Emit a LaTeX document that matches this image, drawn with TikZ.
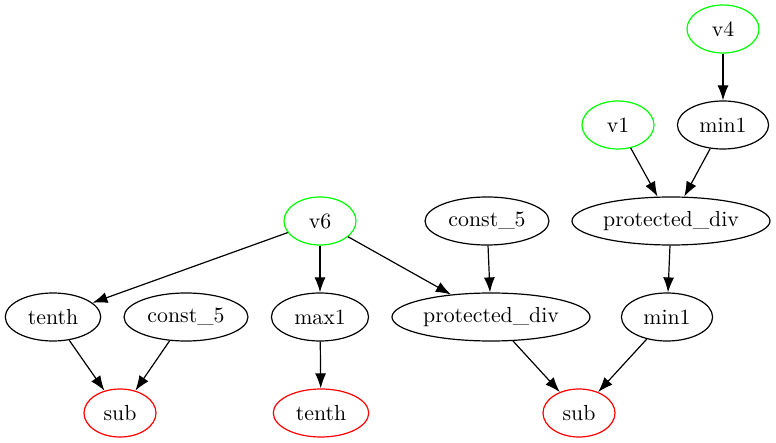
\documentclass[tikz,border=0pt]{standalone}
\usetikzlibrary{arrows.meta,shapes.geometric}
\definecolor{leafgreen}{RGB}{0,255,0}
\definecolor{rootred}{RGB}{255,0,0}
\tikzset{
  op/.style={draw, ellipse, line width=0.6pt, minimum width=36pt, minimum height=24pt,
    inner xsep=4.3pt, inner ysep=0pt, font=\fontsize{10.9}{13}\selectfont},
  wideop/.style={op, inner xsep=0pt, minimum width=#1},
  leaf/.style={op, draw=leafgreen},
  root/.style={op, draw=rootred},
  edge/.style={line width=0.6pt, -{Latex[length=7.5pt, width=5.5pt]}}
}
\begin{document}
\begin{tikzpicture}[x=0.5pt, y=-0.5pt]
                \useasboundingbox (0,0) rectangle (776,443);
                \node[leaf] (v4) at (723,29) {v4};
                \node[leaf] (v1) at (618,125) {v1};
                \node[op] (minA) at (723,125) {min1};
                \node[wideop=99pt] (pdivA) at (671,221) {protected\_div};
                \node[wideop=62pt] (constA) at (487,221) {const\_5};
                \node[leaf] (v6) at (320,221) {v6};
                \node[op] (tenthA) at (53,317) {tenth};
                \node[wideop=62pt] (constB) at (186,317) {const\_5};
                \node[op] (maxA) at (320,317) {max1};
                \node[wideop=99pt] (pdivB) at (491,317) {protected\_div};
                \node[op] (minB) at (667,317) {min1};
                \node[root] (subA) at (120,413) {sub};
                \node[root] (tenthB) at (321,413) {tenth};
                \node[root] (subB) at (579,413) {sub};
                \draw[edge] (v4) -- (minA);
                \draw[edge] (v1) -- (pdivA);
                \draw[edge] (minA) -- (pdivA);
                \draw[edge] (pdivA) -- (minB);
                \draw[edge] (constA) -- (pdivB);
                \draw[edge] (v6) -- (tenthA);
                \draw[edge] (v6) -- (maxA);
                \draw[edge] (v6) -- (pdivB);
                \draw[edge] (tenthA) -- (subA);
                \draw[edge] (constB) -- (subA);
                \draw[edge] (maxA) -- (tenthB);
                \draw[edge] (pdivB) -- (subB);
                \draw[edge] (minB) -- (subB);
\end{tikzpicture}
\end{document}
